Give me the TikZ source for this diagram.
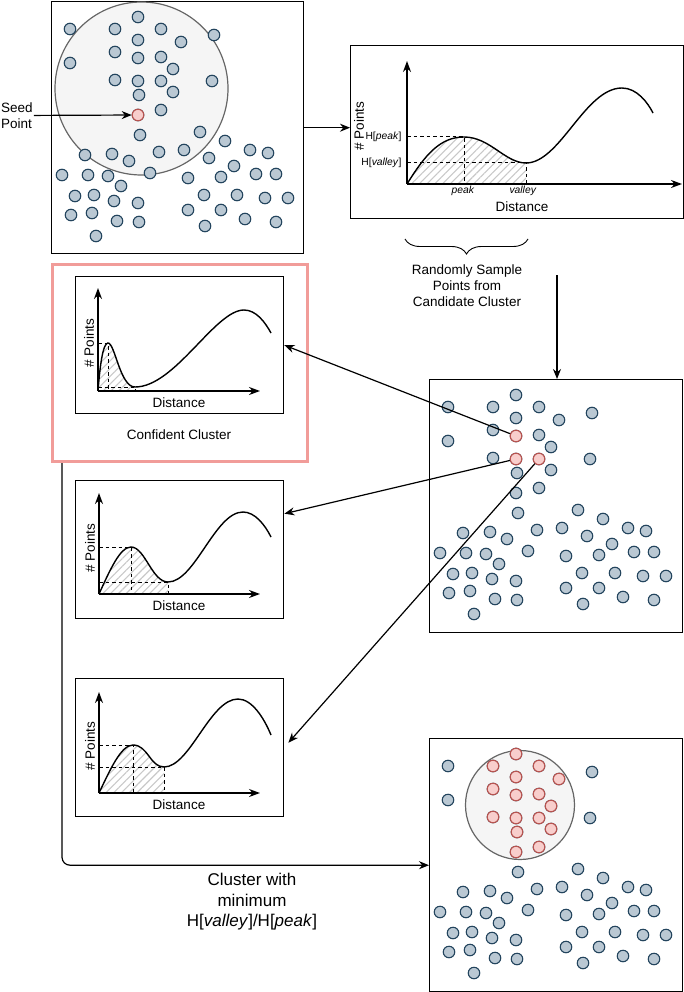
\documentclass[tikz,border=0pt]{standalone}
\usepackage{fontspec}
\setmainfont{Liberation Sans}
\usetikzlibrary{arrows.meta,decorations.pathreplacing,patterns.meta}

\definecolor{dotfill}{HTML}{BAC8D3}
\definecolor{dotline}{HTML}{23445D}
\definecolor{seedfill}{HTML}{F8CECC}
\definecolor{seedline}{HTML}{B85450}
\definecolor{hullfill}{HTML}{F5F5F5}
\definecolor{hullline}{HTML}{666666}
\definecolor{hatchgray}{HTML}{C8C8C8}
\definecolor{picked}{HTML}{F19C99}

\tikzset{
  dot/.style={circle,draw=dotline,fill=dotfill,line width=1.1pt,minimum size=11.5pt,inner sep=0pt},
  seed/.style={dot,draw=seedline,fill=seedfill},
  panel/.style 2 args={draw,line width=1.4pt,inner sep=0pt,anchor=north west,minimum width=#1,minimum height=#2},
  hull/.style={draw=hullline,fill=hullfill,line width=1.2pt},
  axis/.style={-{Stealth[length=11pt,width=8pt]},line width=1.4pt},
  guide/.style={dash pattern=on 3.5pt off 3pt,line width=1pt},
  hatch/.style={pattern={Lines[angle=45,distance=5.5pt,line width=1.1pt]},pattern color=hatchgray},
  curve/.style={line width=1.4pt},
  lbl/.style={font=\fontsize{13.5}{16}\selectfont},
  tick/.style={font=\fontsize{10.3}{12}\selectfont},
  link/.style={-{Stealth[length=10pt,width=8pt]},line width=1.2pt},
}

\newcommand{\cloudpts}{87/16,19/28,64/28,110/28,87/39,130/41,163/34,64/51,87/57,110/56,
19/62,122/68,64/79,87/80,110/80,161/80,88/94,122/91,110/109,87/114,
89/134,149/131,174/140,34/154,61/153,78/160,108/151,133/149,158/157,199/149,
217/152,11/174,37/174,57/175,99/172,70/185,137/177,170/176,183/165,205/173,
225/173,24/195,43/194,63/200,87/202,153/194,186/194,214/197,237/197,20/214,
41/212,66/220,88/221,137/209,170/209,194/218,225/221,45/235,154/225}

\begin{document}
\begin{tikzpicture}[x=1pt,y=-1pt]
\useasboundingbox (0,0) rectangle (684,992);

% candidate cluster around the seed
\node[panel={252pt}{252pt}] (tl) at (51,1) {};
\draw[hull] (141.5,88.5) circle[radius=86.5pt];
\begin{scope}[shift={(51,1)}]
\foreach \x/\y [count=\i] in \cloudpts
  \node[dot] (t\i) at (\x,\y) {};
\end{scope}
\node[seed] (s0) at (t20) {};
\node[lbl,align=left,anchor=west,inner sep=1pt] (seedlbl) at (0,115.5) {Seed\\Point};
\draw[link] (seedlbl) -- (s0);

% histogram of the candidate cluster
\node[panel={333pt}{173pt}] (tr) at (350,45) {};
\coordinate (o0) at (407,184);
\fill[hatch] (o0) .. controls (425,155) and (440,137) .. (464,137)
  .. controls (490,137) and (505,163) .. (526,163) -- (526,184) -- cycle;
\draw[guide] (407,137) -- (464,137) -- (464,184);
\draw[guide] (407,163) -- (526,163) -- (526,184);
\draw[curve] (o0) .. controls (425,155) and (440,137) .. (464,137)
  .. controls (490,137) and (505,163) .. (526,163)
  .. controls (560,163) and (585,88) .. (622,88)
  .. controls (637,88) and (648,103) .. (653,113);
\draw[axis] (o0) -- (407,61);
\draw[axis] (o0) -- (682,184);
\node[lbl,rotate=90] (ylab0) at (359,126) {\# Points};
\node[lbl] (xlab0) at (522,207) {Distance};
\node[tick,anchor=east] (hpeak) at (405,137) {H[\textit{peak}]};
\node[tick,anchor=east] (hvalley) at (405,163) {H[\textit{valley}]};
\node[tick] (tpeak) at (463,191) {\textit{peak}};
\node[tick] (tvalley) at (523,191) {\textit{valley}};
\draw[link] (tl.east) -- (tl.east -| tr.west);

\draw[decorate,decoration={brace,amplitude=15pt},line width=0.9pt] (528,239) -- (405,239);
\node[lbl,align=center] (sample) at (467,286) {Randomly Sample\\Points from\\Candidate Cluster};

% sampled points
\node[panel={253pt}{253pt}] (mid) at (429,379) {};
\begin{scope}[shift={(429,379)}]
\foreach \x/\y [count=\i] in \cloudpts
  \node[dot] (m\i) at (\x,\y) {};
\end{scope}
\foreach \i in {9,14,15}
  \node[seed] at (m\i) {};
\coordinate (drop) at (557,275);
\draw[link] (drop) -- (drop |- mid.north);

% confident cluster
\node[panel={255pt}{197pt},draw=picked,line width=3pt] (conf) at (51,263) {};
\node[panel={208pt}{137pt}] (p1) at (75,276) {};
\coordinate (o1) at (98,391);
\fill[hatch] (o1) .. controls (100,365) and (103,343) .. (108,343)
  .. controls (115,343) and (120,387) .. (135,387) -- (135,391) -- cycle;
\draw[guide] (98,343) -- (108,343) -- (108,391);
\draw[guide] (98,387) -- (135,387) -- (135,391);
\draw[curve] (o1) .. controls (100,365) and (103,343) .. (108,343)
  .. controls (115,343) and (120,387) .. (135,387)
  .. controls (175,387) and (215,310) .. (244,310)
  .. controls (256,310) and (265,322) .. (271,333);
\draw[axis] (o1) -- (98,288);
\draw[axis] (o1) -- (260,391);
\node[lbl,rotate=90] (ylab1) at (89,343) {\# Points};
\node[lbl] (xlab1) at (179,403) {Distance};
\node[lbl] (conflbl) at (179,435) {Confident Cluster};

% second sample
\node[panel={208pt}{138pt}] (p2) at (75,480) {};
\coordinate (o2) at (99,594);
\fill[hatch] (o2) .. controls (110,570) and (120,547) .. (131,547)
  .. controls (145,547) and (152,582) .. (168,582) -- (168,594) -- cycle;
\draw[guide] (99,547) -- (131,547) -- (131,594);
\draw[guide] (99,582) -- (168,582) -- (168,594);
\draw[curve] (o2) .. controls (110,570) and (120,547) .. (131,547)
  .. controls (145,547) and (152,582) .. (168,582)
  .. controls (195,582) and (215,512) .. (243,512)
  .. controls (255,512) and (265,525) .. (271,537);
\draw[axis] (o2) -- (99,493);
\draw[axis] (o2) -- (260,594);
\node[lbl,rotate=90] (ylab2) at (90,548) {\# Points};
\node[lbl] (xlab2) at (179,606) {Distance};

% third sample
\node[panel={208pt}{138pt}] (p3) at (75,678) {};
\coordinate (o3) at (99,793);
\fill[hatch] (o3) .. controls (110,770) and (121,745) .. (133,745)
  .. controls (148,745) and (150,767) .. (164,767) -- (164,793) -- cycle;
\draw[guide] (99,745) -- (133,745) -- (133,793);
\draw[guide] (99,767) -- (164,767) -- (164,793);
\draw[curve] (o3) .. controls (110,770) and (121,745) .. (133,745)
  .. controls (148,745) and (150,767) .. (164,767)
  .. controls (190,767) and (210,699) .. (238,699)
  .. controls (252,699) and (264,718) .. (271,735);
\draw[axis] (o3) -- (99,692);
\draw[axis] (o3) -- (260,793);
\node[lbl,rotate=90] (ylab3) at (90,746) {\# Points};
\node[lbl] (xlab3) at (179,805) {Distance};

\draw[link] (m9) -- (p1.east);
\draw[link] (m14) -- ([yshift=36pt]p2.east);
\draw[link] (m15) -- ([xshift=4pt,yshift=5pt]p3.east);

% resulting cluster
\node[panel={253pt}{253pt}] (res) at (429,738) {};
\draw[hull] (520,805) circle[radius=54.5pt];
\begin{scope}[shift={(429,738)}]
\foreach \x/\y [count=\i] in \cloudpts
  \node[dot] (b\i) at (\x,\y) {};
\end{scope}
\foreach \i in {1,3,4,5,6,8,9,10,12,13,14,15,17,18,19,20}
  \node[seed] at (b\i) {};

\draw[link,rounded corners=8pt] ([xshift=11pt]conf.south west) |- (res.west);
\node[font=\fontsize{17}{20.5}\selectfont,align=center] (minlbl) at (252,902)
  {Cluster with\\minimum\\H[\textit{valley}]/H[\textit{peak}]};
\end{tikzpicture}
\end{document}
